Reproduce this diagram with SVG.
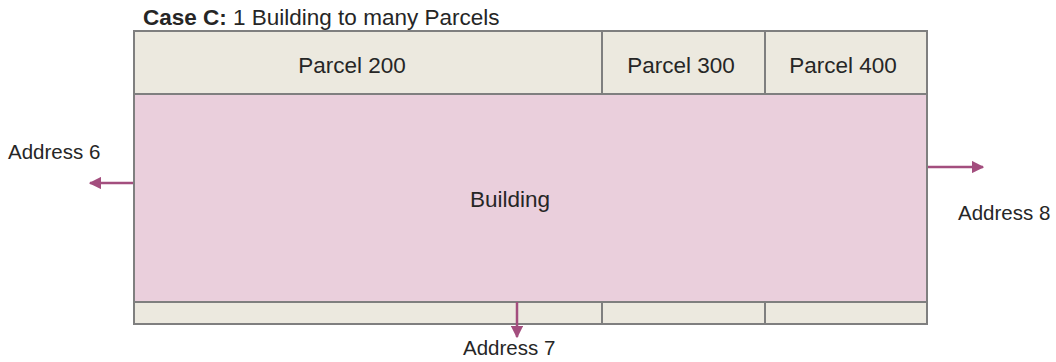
<svg xmlns="http://www.w3.org/2000/svg" width="1056" height="362" viewBox="0 0 1056 362">
<style>
.parcel{fill:#ECE9DF;stroke:#7F7F7F;stroke-width:2}
.bldg{fill:#EACFDC;stroke:#7F7F7F;stroke-width:2}
.t{font-family:"Liberation Sans",Arial,sans-serif;font-size:22.5px;fill:#262626}
.lbl{font-family:"Liberation Sans",Arial,sans-serif;font-size:20.5px;fill:#262626}
.arr{stroke:#A34E7E;stroke-width:2.5;fill:none}
</style>
<defs>
<marker id="ah" viewBox="0 0 10 10" refX="9" refY="5" markerWidth="5" markerHeight="5" orient="auto" markerUnits="strokeWidth">
<path d="M0,0 L10,5 L0,10 Z" fill="#A34E7E"/>
</marker>
</defs>
<text class="t" x="143" y="25"><tspan font-weight="bold">Case C:</tspan> 1 Building to many Parcels</text>
<g id="parcel200"><rect class="parcel" x="134" y="31" width="468" height="293"/><text class="t" x="352" y="73" text-anchor="middle">Parcel 200</text></g>
<g id="parcel300"><rect class="parcel" x="602" y="31" width="163" height="293"/><text class="t" x="681" y="73" text-anchor="middle">Parcel 300</text></g>
<g id="parcel400"><rect class="parcel" x="765" y="31" width="162" height="293"/><text class="t" x="843" y="73" text-anchor="middle">Parcel 400</text></g>
<g id="building"><rect class="bldg" x="134" y="94" width="793" height="208"/><text class="t" x="510" y="207" text-anchor="middle">Building</text></g>
<g id="connectors">
<line class="arr" x1="133" y1="183" x2="90" y2="183" marker-end="url(#ah)"/>
<line class="arr" x1="928" y1="167" x2="983" y2="167" marker-end="url(#ah)"/>
<line class="arr" x1="517" y1="302" x2="517" y2="337" marker-end="url(#ah)"/>
</g>
<g id="address6"><text class="lbl" x="8" y="159">Address 6</text></g>
<g id="address8"><text class="lbl" x="958" y="220">Address 8</text></g>
<g id="address7"><text class="lbl" x="463" y="355">Address 7</text></g>
</svg>
